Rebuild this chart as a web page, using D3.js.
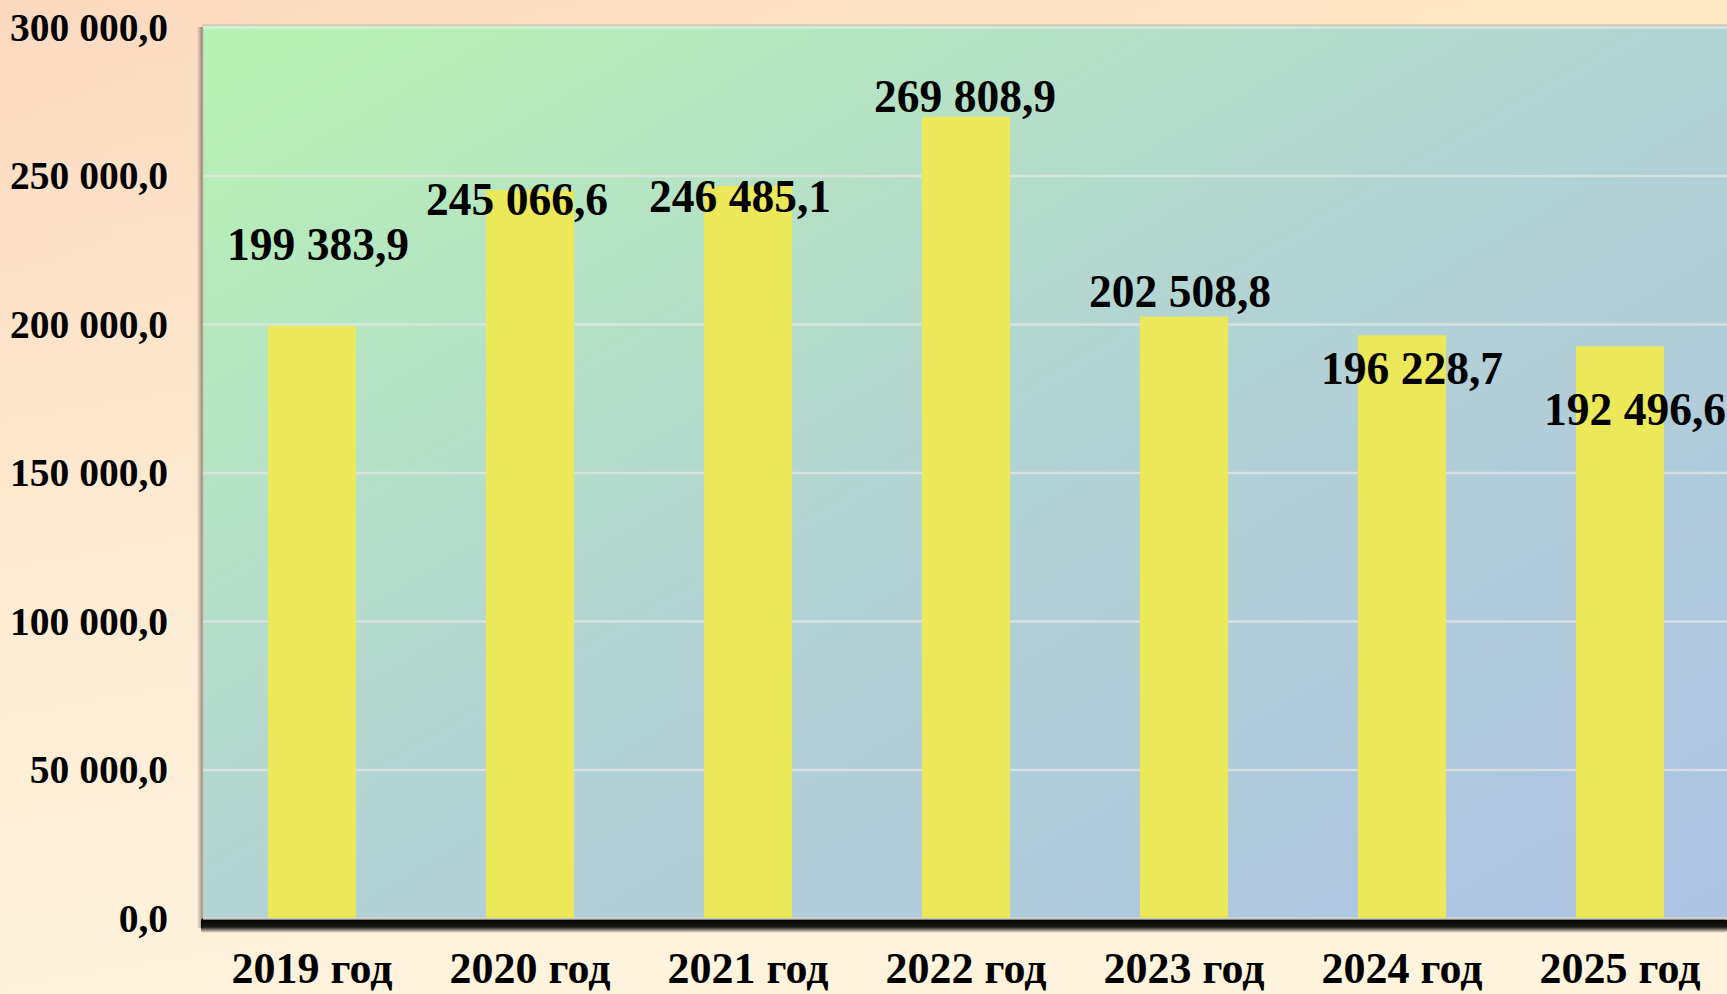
<!DOCTYPE html>
<html>
<head>
<meta charset="utf-8">
<script src="https://cdn.jsdelivr.net/npm/d3@7"></script>
<style>
  html, body { margin: 0; padding: 0; overflow: hidden; }
  svg { display: block; }
  text { font-family: "Liberation Serif", "Times New Roman", serif; font-weight: bold; fill: #000; }
</style>
</head>
<body>
<svg width="1727" height="994"></svg>
<script>
const years = ['2019 год', '2020 год', '2021 год', '2022 год', '2023 год', '2024 год', '2025 год'];
const values = [199383.9, 245066.6, 246485.1, 269808.9, 202508.8, 196228.7, 192496.6];
const yTicks = [0, 50000, 100000, 150000, 200000, 250000, 300000];

// labels were nudged by hand in the original, offsets in px from bar centre / bar top
const labelDx = [6, -13, -8, -1, -4, 10, 15];
const labelDy = [-66, 25, 26, -5, -10, 49, 79];

const svg = d3.select('svg');
const width = 1727;
const height = 994;
const plot = { left: 203, right: 1729, top: 27, bottom: 918 };

const ru = d3.formatLocale({ decimal: ',', thousands: '\u00a0', grouping: [3], currency: ['', ''] });
const fmt = ru.format(',.1f');

const xScale = d3.scaleBand()
    .domain(years)
    .range([plot.left, plot.right])
    .paddingInner(0.596)
    .paddingOuter(0.298);

const yScale = d3.scaleLinear()
    .domain([0, 300000])
    .range([plot.bottom, plot.top]);

const defs = svg.append('defs');

const bg = defs.append('linearGradient').attr('id', 'bg')
    .attr('x1', 0).attr('y1', 0).attr('x2', 0.3).attr('y2', 1);
bg.append('stop').attr('offset', 0).attr('stop-color', '#fbd9bf');
bg.append('stop').attr('offset', 0.55).attr('stop-color', '#fdebd3');
bg.append('stop').attr('offset', 1).attr('stop-color', '#fef3dd');

const bgTop = defs.append('linearGradient').attr('id', 'bgTop')
    .attr('x1', 0).attr('y1', 0).attr('x2', 1).attr('y2', 0);
bgTop.append('stop').attr('offset', 0).attr('stop-color', '#ffe9c6').attr('stop-opacity', 0);
bgTop.append('stop').attr('offset', 1).attr('stop-color', '#ffe9c6').attr('stop-opacity', 0.9);

const plotGrad = defs.append('linearGradient').attr('id', 'plotGrad')
    .attr('x1', 0).attr('y1', 0).attr('x2', 1).attr('y2', 1);
plotGrad.append('stop').attr('offset', 0).attr('stop-color', '#b7f3b2');
plotGrad.append('stop').attr('offset', 0.5).attr('stop-color', '#b3d3d4');
plotGrad.append('stop').attr('offset', 1).attr('stop-color', '#adc2e2');

const shadowBottom = defs.append('linearGradient').attr('id', 'shadowBottom')
    .attr('x1', 0).attr('y1', 0).attr('x2', 0).attr('y2', 1);
shadowBottom.append('stop').attr('offset', 0).attr('stop-color', '#000').attr('stop-opacity', 1);
shadowBottom.append('stop').attr('offset', 0.6).attr('stop-color', '#000').attr('stop-opacity', 0.9);
shadowBottom.append('stop').attr('offset', 1).attr('stop-color', '#000').attr('stop-opacity', 0);

const shadowLeft = defs.append('linearGradient').attr('id', 'shadowLeft')
    .attr('x1', 0).attr('y1', 0).attr('x2', 1).attr('y2', 0);
shadowLeft.append('stop').attr('offset', 0).attr('stop-color', '#000').attr('stop-opacity', 0);
shadowLeft.append('stop').attr('offset', 1).attr('stop-color', '#000').attr('stop-opacity', 0.45);

svg.append('rect').attr('width', width).attr('height', height).attr('fill', 'url(#bg)');
svg.append('rect').attr('width', width).attr('height', 300).attr('fill', 'url(#bgTop)')
    .attr('opacity', 0.8);

// plot area with its shadow
svg.append('rect')
    .attr('x', plot.left - 6).attr('y', plot.top)
    .attr('width', 6).attr('height', plot.bottom - plot.top + 10)
    .attr('fill', 'url(#shadowLeft)');

svg.append('rect')
    .attr('x', plot.left - 2).attr('y', plot.bottom)
    .attr('width', width - plot.left + 2).attr('height', 15)
    .attr('rx', 3)
    .attr('fill', 'url(#shadowBottom)');

svg.append('rect')
    .attr('x', plot.left).attr('y', plot.top - 2)
    .attr('width', plot.right - plot.left).attr('height', plot.bottom - plot.top + 2)
    .attr('fill', 'url(#plotGrad)')
    .attr('stroke', '#c9bca8')
    .attr('stroke-width', 1);

const g = svg.append('g');

const yAxis = d3.axisLeft(yScale)
    .tickValues(yTicks)
    .tickSize(-(plot.right - plot.left))
    .tickPadding(35)
    .tickFormat(fmt);

const yAxisG = g.append('g')
    .attr('transform', `translate(${plot.left},0)`)
    .call(yAxis);
yAxisG.select('.domain').remove();
yAxisG.selectAll('.tick line')
    .attr('stroke', '#e4e6e4')
    .attr('stroke-opacity', 0.75)
    .attr('stroke-width', 2.5);
yAxisG.selectAll('.tick text')
    .attr('font-size', 39.5)
    .attr('font-family', '"Liberation Serif", serif')
    .attr('font-weight', 'bold')
    .attr('fill', '#000')
    .attr('dy', '0.33em');

g.selectAll('.bar')
    .data(values)
    .join('rect')
    .attr('class', 'bar')
    .attr('x', (d, i) => xScale(years[i]))
    .attr('y', d => yScale(d))
    .attr('width', xScale.bandwidth())
    .attr('height', d => yScale(0) - yScale(d))
    .attr('fill', '#ebe85a');

g.selectAll('.value-label')
    .data(values)
    .join('text')
    .attr('class', 'value-label')
    .attr('x', (d, i) => xScale(years[i]) + xScale.bandwidth() / 2 + labelDx[i])
    .attr('y', (d, i) => yScale(d) + labelDy[i])
    .attr('text-anchor', 'middle')
    .attr('font-size', 45.5)
    .text(d => fmt(d));

const xAxis = d3.axisBottom(xScale)
    .tickSize(0)
    .tickPadding(0);

const xAxisG = g.append('g')
    .attr('transform', `translate(0,${plot.bottom})`)
    .call(xAxis);
xAxisG.select('.domain').remove();
xAxisG.selectAll('.tick text')
    .attr('font-size', 44)
    .attr('font-family', '"Liberation Serif", serif')
    .attr('font-weight', 'bold')
    .attr('fill', '#000')
    .attr('dy', null)
    .attr('y', 65);
</script>
</body>
</html>
